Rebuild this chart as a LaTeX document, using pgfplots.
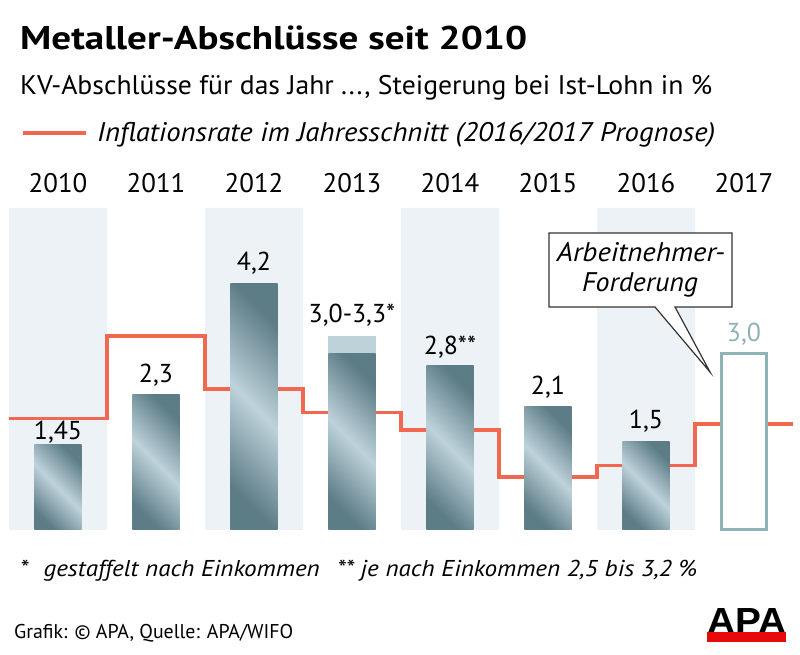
\documentclass[border=0pt]{standalone}
\usepackage{pgfplots}
\pgfplotsset{compat=1.18}
\usepackage{graphicx}
\usepackage{fontspec}
\setmainfont{PT Sans}
\newfontfamily\logofont{Liberation Sans}
\definecolor{bgc}{RGB}{237,242,247}
\definecolor{linec}{RGB}{240,104,80}
\definecolor{bardark}{RGB}{92,124,134}
\definecolor{barlight}{RGB}{190,210,219}
\definecolor{toppart}{RGB}{190,210,218}
\definecolor{outc}{RGB}{143,178,183}
\definecolor{apared}{RGB}{232,10,10}
\begin{document}
\begin{tikzpicture}[x=1bp,y=1bp,
  lab/.style={font=\fontsize{26}{30}\selectfont, anchor=base, inner sep=0pt},
  yr/.style={font=\fontsize{27}{31}\selectfont, anchor=base, inner sep=0pt},
  sbar/.style={ybar, bar width=0.48, bar shift=0pt, draw=none,
     left color=bardark, right color=bardark, middle color=barlight, shading angle=135}]
\path[use as bounding box, fill=white] (0,0) rectangle (800,655);

% Titles
\node[anchor=base west, inner sep=0pt] at (20,605)
  {\resizebox{507bp}{\height}{\fontsize{33}{38}\selectfont\bfseries Metaller-Abschlüsse seit 2010}};
\node[anchor=base west, inner sep=0pt] at (20,560)
  {\resizebox{692bp}{\height}{\fontsize{27}{31}\selectfont KV-Abschlüsse für das Jahr ..., Steigerung bei Ist-Lohn in \%}};
\draw[linec, line width=3.5bp] (23,522) -- (86,522);
\node[anchor=base west, inner sep=0pt] at (97,513)
  {\resizebox{618bp}{\height}{\fontsize{27}{31}\selectfont\itshape Inflationsrate im Jahresschnitt (2016/2017 Prognose)}};

\begin{axis}[at={(9bp,125bp)}, anchor=south west, scale only axis,
  width=784bp, height=322bp, xmin=-0.5, xmax=7.5, ymin=0, ymax=5.476,
  hide axis, clip=false]
% background columns
\addplot[ybar, bar width=1, bar shift=0pt, fill=bgc, draw=none]
  coordinates {(0,5.476) (2,5.476) (4,5.476) (6,5.476)};
% inflation rate (step line)
\addplot[const plot, linec, line width=3.5bp, mark=none]
  coordinates {(-0.5,1.9) (0.5,3.3) (1.5,2.4) (2.5,2.0) (3.5,1.7) (4.5,0.9) (5.5,1.1) (6.5,1.8) (7.5,1.8)};
% 2013 upper range part
\addplot[ybar, bar width=0.48, bar shift=0pt, fill=toppart, draw=none] coordinates {(3,3.3)};
% bars
\addplot[sbar] coordinates {(0,1.45)};
\addplot[sbar] coordinates {(1,2.3)};
\addplot[sbar] coordinates {(2,4.2)};
\addplot[sbar] coordinates {(3,3.0)};
\addplot[sbar] coordinates {(4,2.8)};
\addplot[sbar] coordinates {(5,2.1)};
\addplot[sbar] coordinates {(6,1.5)};
% 2017 demand
\addplot[ybar, bar width=0.46, bar shift=0pt, fill=white, draw=outc, line width=3bp] coordinates {(7,3.0)};

% year labels
\node[yr, yshift=15bp] at (axis cs:0,5.476) {2010};
\node[yr, yshift=15bp] at (axis cs:1,5.476) {2011};
\node[yr, yshift=15bp] at (axis cs:2,5.476) {2012};
\node[yr, yshift=15bp] at (axis cs:3,5.476) {2013};
\node[yr, yshift=15bp] at (axis cs:4,5.476) {2014};
\node[yr, yshift=15bp] at (axis cs:5,5.476) {2015};
\node[yr, yshift=15bp] at (axis cs:6,5.476) {2016};
\node[yr, yshift=15bp] at (axis cs:7,5.476) {2017};
% value labels
\node[lab, yshift=5bp]  at (axis cs:0,1.45) {1,45};
\node[lab, yshift=12bp] at (axis cs:1,2.3) {2,3};
\node[lab, yshift=13bp] at (axis cs:2,4.2) {4,2};
\node[lab, yshift=13bp] at (axis cs:3,3.3) {3,0-3,3*};
\node[lab, yshift=11bp] at (axis cs:4,2.8) {2,8**};
\node[lab, yshift=12bp] at (axis cs:5,2.1) {2,1};
\node[lab, yshift=13bp] at (axis cs:6,1.5) {1,5};
\node[lab, yshift=12bp, text=outc] at (axis cs:7,3.0) {3,0};
\end{axis}

% callout
\draw[fill=white, draw=black!80, line width=1.2bp]
  (549,422) -- (732,422) -- (732,348) -- (675,348) -- (710,283) -- (655,348) -- (549,348) -- cycle;
\node[anchor=base, inner sep=0pt] at (641,393)
  {\resizebox{168bp}{\height}{\fontsize{27}{31}\selectfont\itshape Arbeitnehmer-}};
\node[anchor=base, inner sep=0pt] at (640,363)
  {\resizebox{116bp}{\height}{\fontsize{27}{31}\selectfont\itshape Forderung}};

% footnote and source
\node[anchor=base west, inner sep=0pt] at (20,78)
  {\resizebox{677bp}{\height}{\fontsize{23}{27}\selectfont\itshape *\hspace{0.6em}gestaffelt nach Einkommen\hspace{0.7em}** je nach Einkommen 2,5 bis 3,2 \%}};
\node[anchor=base west, inner sep=0pt] at (14,16)
  {\resizebox{279bp}{\height}{\fontsize{20}{24}\selectfont Grafik: © APA, Quelle: APA/WIFO}};

% APA logo
\node[anchor=base west, inner sep=0pt] at (707,21)
  {\resizebox{79bp}{25bp}{\logofont\bfseries APA}};
\fill[apared] (707,13) rectangle (786,23);
\end{tikzpicture}
\end{document}
